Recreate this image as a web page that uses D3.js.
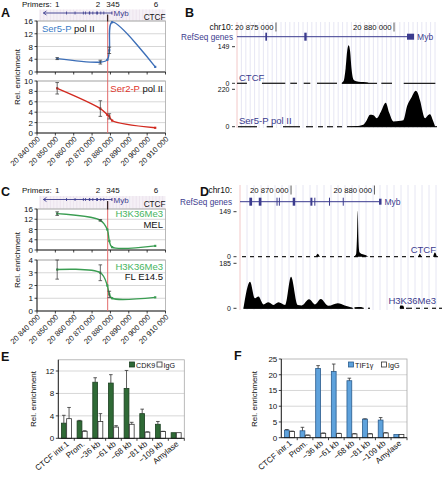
<!DOCTYPE html>
<html><head><meta charset="utf-8">
<script src="https://cdn.jsdelivr.net/npm/d3@7/dist/d3.min.js"></script>
<style>
html,body{margin:0;padding:0;background:#fff;}
svg{display:block;}
text{font-family:"Liberation Sans",Arial,Helvetica,sans-serif;}
</style></head><body>
<svg id="fig" width="444" height="477"></svg>
<script>
// ================= DATA =================
// Panels A & C (ChIP-qPCR along the Myb locus)
const genomicTicks = [20840000,20850000,20860000,20870000,20880000,20890000,20900000,20910000];
const primerPos = [20851000,20874500,20878300,20879400,20880900,20904400];
const primerLabels = ["1","2","345","6"];
const primerLabelPos = [20851000,20873200,20881400,20904800];
const ctcfSite = 20878500;
const mybGene = [20843500,20880550];
const mybTSSBox = [20880550,20880850];
const mybExonStart = [20855800,20860500,20865000,20866130,20868260,20868540,20870200,20872320,20872790,20874550,20876200];
const mybExonEnd   = [20855900,20860600,20865330,20866450,20868320,20868600,20870500,20872560,20872850,20874620,20876300];
const upperTicks = [0,4,8,12,16];
const ser5Vals = [4.2,3.1,3.8,6.8,15.6,1.6];
const ser5Err  = [0.3,0.6,0,1.0,0,0];
const ser2Ticks = [0,2,4,6,8,10];
const ser2Vals = [8.6,4.7,3.5,3.2,2.4,1.0];
const ser2Err  = [1.1,1.5,0,0.5,0,0];
const h3MelVals = [14.2,11.6,8.0,3.5,1.1,1.6];
const h3MelErr  = [0.7,0.3,0,0,0,0];
const flTicks = [0,1,2,3,4];
const h3FlVals = [3.25,3.0,2.0,1.3,1.0,1.07];
const h3FlErr  = [0.75,0.62,0,0.25,0,0];

// Panel B (genome browser, narrow window)
const bDomain = [20873350,20881820];
const bPosTicks = [20875000,20880000];
const ctcfBPos = [20877750,20877870,20877950,20878020,20878080,20878140,20878200,20878280,20878400,20878600,20878800,20878950];
const ctcfBVal = [0,10,60,135,158,130,60,15,8,5,4,0];
const ctcfBSegs = [[20873350,20873771],[20874407,20875394],[20875606,20875890],[20876174,20876453],[20876737,20877585],[20877797,20879280],[20879462,20879915],[20880411,20881750]];
const ser5BPos = [20878100,20878400,20878700,20878850,20878983,20879130,20879267,20879450,20879648,20879800,20879970,20880200,20880394,20880550,20880750,20880920,20881000,20881100,20881314,20881420,20881525,20881640,20881737];
const ser5BVal = [0,4,12,40,70,68,50,90,141,80,31,33,38,120,175,212,200,156,50,65,73,40,2];
const ser5BSegs = [[20873392,20874197],[20874608,20874875],[20875298,20876018],[20876272,20876569],[20876780,20876992],[20877161,20877416],[20877585,20877797],[20878009,20881820]];

// Panel D (genome browser, wide window)
const dDomain = [20863880,20888100];
const dPosTicks = [20870000,20880000];
const ctcfDPos = [20863900,20872900,20873200,20873500,20877500,20877800,20877900,20877990,20878080,20878200,20878600,20879000,20879300,20885200,20885430,20885700,20887000,20887230,20887500];
const ctcfDVal = [0,0,10,0,0,8,60,152,60,15,8,5,0,0,10,0,0,14,0];
const h3DPos = [20864293,20865084,20865683,20866091,20866691,20867290,20867890,20868489,20869281,20870000,20870803,20871283,20872158,20872878,20873561,20874484,20875600,20876439,20877278,20877450,20877700,20878400,20878700,20883000,20883100,20883450,20883550];
const h3DVal = [0,109,41,48,16,25,14,25,14,130,14,12,37,16,38,10,21,12,3,0,4,5,0,0,12,10,0];
const h3DSegs = [[20864293,20877400],[20877640,20878720],[20879220,20879470],[20883060,20883550],[20883784,20884504],[20884984,20885464],[20885944,20886424],[20886904,20887384],[20887744,20888100]];

// Panels E & F (bar charts)
const barCategories = ["CTCF intr.1","Prom.","\u221236 kb","\u221261 kb","\u221268 kb","\u221281 kb","\u2212109 kb","Amylase"];
const cdk9Vals = [2.7,3.1,10.0,9.85,8.9,4.4,2.5,1.0];
const cdk9Err  = [1.4,0.1,0.8,1.5,3.2,0.8,0.5,0];
const iggEVals = [3.5,1.25,3.0,2.0,2.5,1.1,1.2,1.0];
const iggEErr  = [2.0,0.1,1.4,0.25,0.35,0.06,0.05,0];
const eTicks = [0,4,8,12];
const tifVals = [2.4,2.2,22.0,21.0,18.1,5.9,5.6,1.0];
const tifErr  = [0.2,1.1,0.9,2.4,0.8,0.1,0.8,0];
const iggFVals = [2.0,0.8,1.4,1.3,1.2,1.2,1.5,1.0];
const iggFErr  = [0.1,0.05,0.1,0.1,0.1,0.1,0.1,0];
const fTicks = [0,5,10,15,20,25];

// ================= DRAWING =================
const svg = d3.select("#fig");
const PURPLE = "#3b3b8e";
const GRID = "#cdcdcd";
const FRAME = "#a9a9a9";
const fmtBp = v => d3.format(",")(v).replace(/,/g," ");

function txt(g,x,y,s,size,o={}){
  const t=g.append("text").attr("x",x).attr("y",y).attr("font-size",size).attr("fill",o.fill||"#111").text(s);
  if(o.anchor) t.attr("text-anchor",o.anchor);
  if(o.weight) t.attr("font-weight",o.weight);
  return t;
}
function ln(g,x1,y1,x2,y2,stroke,w){
  return g.append("line").attr("x1",x1).attr("y1",y1).attr("x2",x2).attr("y2",y2).attr("stroke",stroke).attr("stroke-width",w);
}

// ---------- line panels A / C ----------
function qpcrFrame(g,x,y,ticks,L,R){
  const [b,t]=y.range();
  ticks.filter(v=>v>0).forEach(v=>ln(g,L,y(v),R,y(v),GRID,0.8));
  g.append("rect").attr("x",L).attr("y",t).attr("width",R-L).attr("height",b-t).attr("fill","none").attr("stroke",FRAME).attr("stroke-width",0.8);
  ln(g,L,t,L,b,"#111",0.9);
  ticks.forEach(v=>{ ln(g,L-2.5,y(v),L,y(v),"#111",0.8); txt(g,L-4,y(v)+3,String(v),8,{anchor:"end"}); });
  ln(g,L,b,R,b,"#111",0.9);
  genomicTicks.forEach(v=>ln(g,x(v),b,x(v),b+2.5,"#111",0.8));
}
function qpcrSeries(g,x,y,vals,errs,color){
  const line=d3.line().x((d,i)=>x(primerPos[i])).y(d=>y(d)).curve(d3.curveCatmullRom.alpha(0.5));
  g.append("path").attr("d",line(vals)).attr("fill","none").attr("stroke",color).attr("stroke-width",1.4);
  vals.forEach((v,i)=>{
    const xx=x(primerPos[i]);
    g.append("rect").attr("x",xx-1.1).attr("y",y(v)-1.1).attr("width",2.2).attr("height",2.2).attr("fill",color);
    if(errs[i]>0){
      ln(g,xx,y(v-errs[i]),xx,y(v+errs[i]),"#444",0.8);
      ln(g,xx-1.8,y(v-errs[i]),xx+1.8,y(v-errs[i]),"#444",0.8);
      ln(g,xx-1.8,y(v+errs[i]),xx+1.8,y(v+errs[i]),"#444",0.8);
    }
  });
}
function linePanel(c){
  const g=svg.append("g");
  const L=37,R=165.5;
  const x=d3.scaleLinear().domain([genomicTicks[0],genomicTicks[genomicTicks.length-1]]).range([L,R]);
  // header band
  g.append("rect").attr("x",L+2).attr("y",c.bandTop).attr("width",R-L-2).attr("height",c.upTop-c.bandTop).attr("fill","#f5f0f6");
  d3.range(L+3.5,R,3.3).forEach(px=>ln(g,px,c.bandTop,px,c.upTop,"#e9dfeb",0.7));
  txt(g,22,c.primY,"Primers:",8);
  primerLabels.forEach((t,i)=>txt(g,x(primerLabelPos[i]),c.primY,t,8,{anchor:"middle"}));
  const gy=c.geneY;
  ln(g,x(mybGene[0]),gy,x(mybTSSBox[1]),gy,PURPLE,0.9);
  const ax=x(mybGene[0]);
  g.append("path").attr("d",`M${ax+3},${gy-2}L${ax},${gy}L${ax+3},${gy+2}`).attr("fill","none").attr("stroke",PURPLE).attr("stroke-width",0.9);
  mybExonStart.forEach((s,i)=>g.append("rect").attr("x",x(s)).attr("y",gy-1.5).attr("width",Math.max(0.8,x(mybExonEnd[i])-x(s))).attr("height",3).attr("fill",PURPLE));
  g.append("rect").attr("x",x(mybTSSBox[0])).attr("y",gy-1.5).attr("width",Math.max(1,x(mybTSSBox[1])-x(mybTSSBox[0]))).attr("height",3).attr("fill",PURPLE);
  txt(g,x(mybTSSBox[1])+1.5,gy+3,"Myb",8,{fill:PURPLE});
  txt(g,R,c.ctcfY,"CTCF",8.2,{anchor:"end"});
  // plots
  const yU=d3.scaleLinear().domain([0,16]).range([c.upBot,c.upTop]);
  const yL=d3.scaleLinear().domain([0,c.lowTicks[c.lowTicks.length-1]]).range([c.lowBot,c.lowTop]);
  qpcrFrame(g,x,yU,upperTicks,L,R);
  qpcrFrame(g,x,yL,c.lowTicks,L,R);
  // CTCF site
  ln(g,x(ctcfSite),gy+2,x(ctcfSite),c.lowBot,"#e26b6b",1);
  ln(g,x(ctcfSite),gy+1.5,x(ctcfSite),c.upTop+0.5,"#111",1);
  qpcrSeries(g,x,yU,c.upVals,c.upErr,c.upColor);
  qpcrSeries(g,x,yL,c.lowVals,c.lowErr,c.lowColor);
  c.labels(g);
  // x tick labels
  genomicTicks.forEach(v=>{
    g.append("text").attr("transform",`translate(${x(v)+3.5},${c.lowBot+6.5}) rotate(-45)`)
      .attr("text-anchor","end").attr("font-size",7.6).attr("fill","#111").text(fmtBp(v));
  });
  g.append("text").attr("transform",`translate(20,${(c.upTop+c.lowBot)/2}) rotate(-90)`).attr("text-anchor","middle").attr("font-size",8).attr("fill","#111").text("Rel. enrichment");
}

linePanel({
  primY:7,geneY:13,bandTop:9.5,ctcfY:19.8,upTop:21,upBot:72,lowTop:81,lowBot:133,
  upVals:ser5Vals,upErr:ser5Err,upColor:"#3d6fb8",
  lowVals:ser2Vals,lowErr:ser2Err,lowColor:"#d2291f",lowTicks:ser2Ticks,
  labels:(g)=>{
    const t=g.append("text").attr("x",42).attr("y",32).attr("font-size",9.5);
    t.append("tspan").attr("fill","#3a7cc6").text("Ser5-P");
    t.append("tspan").attr("fill","#111").text(" pol II");
    const t2=g.append("text").attr("x",163).attr("y",92).attr("font-size",9.5).attr("text-anchor","end");
    t2.append("tspan").attr("fill","#e0342a").text("Ser2-P");
    t2.append("tspan").attr("fill","#111").text(" pol II");
  }
});
linePanel({
  primY:192.5,geneY:199.5,bandTop:196,ctcfY:207,upTop:209,upBot:250,lowTop:260,lowBot:311,
  upVals:h3MelVals,upErr:h3MelErr,upColor:"#3a9d52",
  lowVals:h3FlVals,lowErr:h3FlErr,lowColor:"#3a9d52",lowTicks:flTicks,
  labels:(g)=>{
    txt(g,163,217,"H3K36Me3",9.5,{anchor:"end",fill:"#46b45e"});
    txt(g,163,227.5,"MEL",9.5,{anchor:"end"});
    txt(g,163,269.5,"H3K36Me3",9.5,{anchor:"end",fill:"#46b45e"});
    txt(g,163,279.5,"FL E14.5",9.5,{anchor:"end"});
  }
});

// ---------- browser panels B / D ----------
function browser(o){
  const g=svg.append("g");
  const x=d3.scaleLinear().domain(o.domain).range([o.left,o.right]);
  d3.range(o.left+o.gridStep,o.right,o.gridStep).forEach(px=>ln(g,px,o.gridTop,px,o.gridBottom,"#dfdff0",0.8));
  ln(g,o.left,o.gridTop,o.left,o.gridBottom,"#f1c2c2",0.9);
  txt(g,o.labelRight,o.posY+3,"chr10:",8.5,{anchor:"end"});
  o.posTicks.forEach(p=>{
    txt(g,x(p)-2.5,o.posY+3,fmtBp(p),7.7,{anchor:"end"});
    ln(g,x(p),o.posY-4.5,x(p),o.posY+4.5,"#333",0.8);
  });
  txt(g,o.labelRight,o.geneY+3,"RefSeq genes",8.2,{anchor:"end",fill:PURPLE});
  ln(g,Math.max(o.left,x(mybGene[0])),o.geneY,x(mybTSSBox[0]),o.geneY,PURPLE,1);
  mybExonStart.forEach((s,i)=>{
    if(s<o.domain[0]) return;
    g.append("rect").attr("x",x(s)).attr("y",o.geneY-4).attr("width",Math.max(1,x(mybExonEnd[i])-x(s))).attr("height",8).attr("fill",PURPLE);
  });
  g.append("rect").attr("x",x(mybTSSBox[0])).attr("y",o.geneY-3).attr("width",x(mybTSSBox[1])-x(mybTSSBox[0])).attr("height",6).attr("fill",PURPLE);
  txt(g,x(mybTSSBox[1])+3,o.geneY+3,"Myb",8.5,{fill:PURPLE});
  o.tracks.forEach(t=>{
    const y=d3.scaleLinear().domain([0,t.max]).range([t.y0,t.y1]);
    if(t.segs){
      t.segs.forEach(s=>ln(g,x(s[0]),y(0),x(s[1]),y(0),"#222",1.3));
    } else {
      ln(g,o.left+2,y(0),o.right,y(0),"#222",1.3).attr("stroke-dasharray","4,4");
    }
    const area=d3.area().x(d=>x(d[0])).y0(y(0)).y1(d=>y(Math.min(d[1],t.max*1.04))).curve(d3.curveMonotoneX);
    g.append("path").datum(t.pos.map((p,i)=>[p,t.val[i]])).attr("d",area).attr("fill","#000");
    [t.max,0].forEach(v=>{
      txt(g,o.numRight,y(v)+2.5,String(v),7,{anchor:"end"});
      ln(g,o.numRight+2.5,y(v),o.numRight+5.5,y(v),"#222",0.9);
    });
    txt(g,t.nameX,t.nameY,t.name,9.5,{anchor:t.anchor,fill:PURPLE});
  });
}
browser({domain:bDomain,left:237,right:437,gridStep:4.4,gridTop:22,gridBottom:128,
  posY:27,posTicks:bPosTicks,geneY:36.7,labelRight:233,numRight:229.5,
  tracks:[
    {max:149,y0:83.3,y1:46.7,pos:ctcfBPos,val:ctcfBVal,segs:ctcfBSegs,name:"CTCF",nameX:239,nameY:81,anchor:"start"},
    {max:220,y0:126.7,y1:89.3,pos:ser5BPos,val:ser5BVal,segs:ser5BSegs,name:"Ser5-P pol II",nameX:239,nameY:123.5,anchor:"start"}
  ]});
browser({domain:dDomain,left:240,right:442,gridStep:7,gridTop:185,gridBottom:310,
  posY:190,posTicks:dPosTicks,geneY:201.7,labelRight:232,numRight:231,
  tracks:[
    {max:149,y0:256.7,y1:211.7,pos:ctcfDPos,val:ctcfDVal,segs:null,name:"CTCF",nameX:436,nameY:252.5,anchor:"end"},
    {max:185,y0:308.3,y1:263.3,pos:h3DPos,val:h3DVal,segs:h3DSegs,name:"H3K36Me3",nameX:436,nameY:304,anchor:"end"}
  ]});

// ---------- bar panels E / F ----------
function barPanel(o){
  const g=svg.append("g");
  const x=d3.scaleBand().domain(barCategories).range([o.x0,o.x1]).paddingInner(0.36).paddingOuter(0.2);
  const xs=d3.scaleBand().domain([0,1]).range([0,x.bandwidth()]).paddingInner(0.08);
  const y=d3.scaleLinear().domain([0,o.max]).range([o.y0,o.y1]);
  o.ticks.filter(v=>v>0&&v<o.max).forEach(v=>ln(g,o.x0,y(v),o.x1,y(v),GRID,0.8));
  g.append("rect").attr("x",o.x0).attr("y",o.y1).attr("width",o.x1-o.x0).attr("height",o.y0-o.y1).attr("fill","none").attr("stroke",FRAME).attr("stroke-width",0.8);
  const sets=[{v:o.vals,e:o.errs,fill:o.fill,stroke:o.stroke},{v:o.igg,e:o.iggErr,fill:"#fff",stroke:"#333"}];
  sets.forEach((s,k)=>barCategories.forEach((c,i)=>{
    const bx=x(c)+xs(k),bw=xs.bandwidth(),v=s.v[i];
    g.append("rect").attr("x",bx).attr("y",y(v)).attr("width",bw).attr("height",o.y0-y(v))
      .attr("fill",s.fill).attr("stroke",s.stroke).attr("stroke-width",0.8);
    if(s.e[i]>0){
      const cx=bx+bw/2;
      ln(g,cx,y(v),cx,y(v+s.e[i]),"#333",0.8);
      ln(g,cx-1.8,y(v+s.e[i]),cx+1.8,y(v+s.e[i]),"#333",0.8);
    }
  }));
  ln(g,o.x0,o.y1,o.x0,o.y0,"#111",0.9);
  o.ticks.forEach(v=>{ ln(g,o.x0-2.5,y(v),o.x0,y(v),"#111",0.8); txt(g,o.x0-4,y(v)+3,String(v),8,{anchor:"end"}); });
  ln(g,o.x0,o.y0,o.x1,o.y0,"#111",0.9);
  barCategories.forEach((c,i)=>{
    const px=x(c)-x.step()*x.paddingInner()/2;
    if(i>0) ln(g,px,o.y0,px,o.y0+2.5,"#111",0.8);
    g.append("text").attr("transform",`translate(${x(c)+x.bandwidth()/2+3},${o.y0+6.5}) rotate(-40)`)
      .attr("text-anchor","end").attr("font-size",8).attr("fill","#111").text(c);
  });
  ln(g,o.x1,o.y0,o.x1,o.y0+2.5,"#111",0.8);
  // legend
  g.append("rect").attr("x",o.legX).attr("y",362).attr("width",5).attr("height",5).attr("fill",o.fill).attr("stroke",o.stroke).attr("stroke-width",0.8);
  txt(g,o.legX+6.5,367.5,o.name,7.2);
  g.append("rect").attr("x",o.legX2).attr("y",362).attr("width",5).attr("height",5).attr("fill","#fff").attr("stroke","#333").attr("stroke-width",0.8);
  txt(g,o.legX2+6.5,367.5,"IgG",7.2);
  g.append("text").attr("transform",`translate(${o.yLabX},399) rotate(-90)`).attr("text-anchor","middle").attr("font-size",8).attr("fill","#111").text("Rel. enrichment");
}
barPanel({x0:58.3,x1:184.3,y0:438.3,y1:359.8,max:14,ticks:eTicks,vals:cdk9Vals,errs:cdk9Err,igg:iggEVals,iggErr:iggEErr,
  fill:"#2f6a36",stroke:"#1c3f21",name:"CDK9",legX:129.5,legX2:157,yLabX:36});
barPanel({x0:281.3,x1:407,y0:437.7,y1:359,max:25,ticks:fTicks,vals:tifVals,errs:tifErr,igg:iggFVals,iggErr:iggFErr,
  fill:"#5ea2dc",stroke:"#2a5b8c",name:"TIF1\u03b3",legX:348.5,legX2:381.5,yLabX:257});

// panel letters
[["A",1,17],["B",185,17],["C",1,196],["D",200,196],["E",1,361],["F",234,360]].forEach(d=>txt(svg,d[1],d[2],d[0],12.5,{weight:"bold"}));
</script>
</body></html>
